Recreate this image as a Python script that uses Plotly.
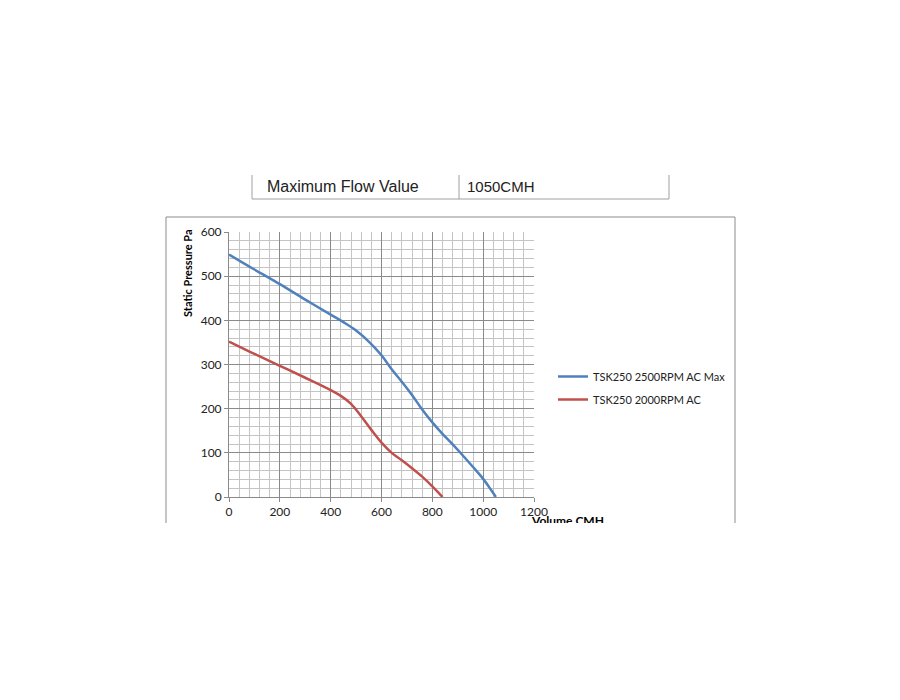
import plotly.graph_objects as go

# fan curves
volume_max = [0, 100, 200, 300, 400, 450, 500, 550, 600, 640, 680, 720, 760, 800, 840, 880, 920, 960, 1000, 1030, 1050]
pressure_max = [549, 515, 482, 447, 413, 396, 377, 352, 321, 289, 261, 231, 198, 169, 143, 119, 94, 68, 41, 17, 0]

volume_ac = [0, 100, 200, 300, 400, 440, 480, 520, 560, 600, 640, 680, 720, 760, 800, 840]
pressure_ac = [352, 324, 297, 270, 242, 229, 211, 183, 152, 123, 100, 83, 65, 46, 24, 0]

series_names = ['TSK250 2500RPM AC Max', 'TSK250 2000RPM AC']
series_colors = ['#4F81BD', '#C0504D']

table_label = 'Maximum Flow Value'
table_value = '1050CMH'

# page has an 8px body margin, positions below are in page pixels
OFF = 8
X0, X1 = 229, 534
Y0, Y1 = 232, 497
FIG_W = 900
FIG_H = 523 - OFF


def px(x):
    return (x - X0) / (X1 - X0)


def py(y):
    return (Y1 - y) / (Y1 - Y0)


fig = go.Figure()
for vol, pres, name, color in zip(
    [volume_max, volume_ac], [pressure_max, pressure_ac], series_names, series_colors
):
    fig.add_trace(go.Scatter(
        x=vol, y=pres, name=name, legendgroup=name, mode='lines',
        line=dict(color=color, width=2.5, shape='spline', smoothing=1.0),
    ))

grey = '#8c8c8c'
shapes = []
# outer chart frame (bottom edge is cut off)
for x_a, y_a, x_b, y_b in [(166, 217, 735, 217), (166, 217, 166, 530), (735, 217, 735, 530)]:
    shapes.append(dict(type='line', xref='paper', yref='paper',
                       x0=px(x_a), y0=py(y_a), x1=px(x_b), y1=py(y_b),
                       line=dict(color=grey, width=1)))
# table lines above the chart
for x_a, y_a, x_b, y_b in [(252, 175, 252, 199), (459, 175, 459, 199),
                           (669, 175, 669, 199), (252, 199, 669, 199)]:
    shapes.append(dict(type='line', xref='paper', yref='paper',
                       x0=px(x_a), y0=py(y_a), x1=px(x_b), y1=py(y_b),
                       line=dict(color='#a0a0a0', width=1)))

annotations = [
    dict(text=table_label, x=px(265), y=py(186), xref='paper', yref='paper',
         xanchor='left', yanchor='middle', showarrow=False,
         font=dict(family='Liberation Sans', size=16, color='#222222')),
    dict(text=table_value, x=px(465), y=py(186), xref='paper', yref='paper',
         xanchor='left', yanchor='middle', showarrow=False,
         font=dict(family='Liberation Sans', size=15, color='#222222')),
    dict(text='<b>Static Pressure Pa</b>', x=px(187), y=py(273), xref='paper', yref='paper',
         textangle=-90, xanchor='center', yanchor='middle', showarrow=False,
         font=dict(family='Lato', size=11, color='#000000')),
    dict(text='<b>Volume CMH</b>', x=px(567), y=py(511), xref='paper', yref='paper',
         xanchor='center', yanchor='top', showarrow=False,
         font=dict(family='Lato', size=12, color='#000000')),
]

fig.update_layout(
    width=FIG_W, height=FIG_H,
    margin=dict(l=X0 - OFF, r=FIG_W - (X1 - OFF), t=Y0 - OFF, b=FIG_H - (Y1 - OFF),
                pad=0, autoexpand=False),
    paper_bgcolor='white', plot_bgcolor='white',
    font=dict(family='Lato', size=12, color='#222222'),
    showlegend=True,
    legend=dict(x=px(553), y=py(362), xanchor='left', yanchor='top',
                font=dict(family='Lato', size=11, color='#222222'),
                bgcolor='rgba(0,0,0,0)', tracegroupgap=4),
    shapes=shapes,
    annotations=annotations,
)
fig.update_xaxes(
    range=[0, 1200], dtick=200, tick0=0, automargin=False,
    showgrid=True, gridcolor='#8a8a8a', gridwidth=1,
    minor=dict(dtick=40, showgrid=True, gridcolor='#c4c4c4', gridwidth=1),
    showline=True, linecolor='#8a8a8a', linewidth=1,
    ticks='outside', ticklen=4, tickcolor='#8a8a8a',
    zeroline=False,
)
fig.update_yaxes(
    range=[0, 600], dtick=100, tick0=0, automargin=False,
    showgrid=True, gridcolor='#8a8a8a', gridwidth=1,
    minor=dict(dtick=20, showgrid=True, gridcolor='#c4c4c4', gridwidth=1),
    showline=True, linecolor='#8a8a8a', linewidth=1,
    ticks='outside', ticklen=4, tickcolor='#8a8a8a',
    zeroline=False,
)

fig.write_html('out.html')
